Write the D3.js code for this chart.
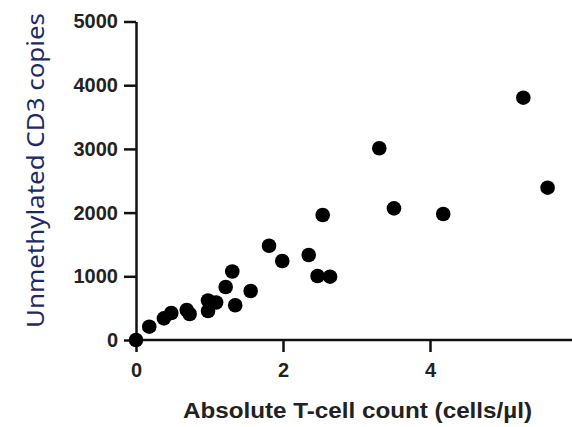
<!DOCTYPE html>
<html>
<head>
<meta charset="utf-8">
<script src="https://cdn.jsdelivr.net/npm/d3@7"></script>
<style>
html,body{margin:0;padding:0;background:#fff;}
svg{display:block;}
</style>
</head>
<body>
<svg id="chart" width="572" height="427"></svg>
<script>
// Data
const tcellCount = [0, 0.18, 0.38, 0.48, 0.69, 0.73, 0.98, 0.98, 1.09, 1.22, 1.31, 1.35, 1.56, 1.81, 1.99, 2.35, 2.47, 2.64, 2.54, 3.31, 3.51, 4.18, 5.27, 5.60];
const cd3Copies  = [0, 209, 340, 424, 471, 408, 620, 455, 589, 832, 1075, 545, 769, 1480, 1240, 1334, 1005, 994, 1962, 3010, 2067, 1978, 3804, 2391];
const xTicks = [0, 2, 4, 6];
const yTicks = [0, 1000, 2000, 3000, 4000, 5000];
const xTitle = "Absolute T-cell count (cells/\u00b5l)";
const yTitle = "Unmethylated CD3 copies";

const svg = d3.select("#chart");
const x = d3.scaleLinear().domain([0, 6]).range([136, 577]);
const y = d3.scaleLinear().domain([0, 5000]).range([340, 21.5]);

const axisFont = "'Liberation Sans', Arial, sans-serif";

const gx = svg.append("g")
  .attr("transform", `translate(0,${y(0)})`)
  .call(d3.axisBottom(x).tickValues(xTicks).tickFormat(d3.format("d")).tickSize(12).tickPadding(11).tickSizeOuter(0));
const gy = svg.append("g")
  .attr("transform", `translate(${x(0)},0)`)
  .call(d3.axisLeft(y).tickValues(yTicks).tickFormat(d3.format("d")).tickSize(12).tickPadding(6).tickSizeOuter(0));

[gx, gy].forEach(g => {
  g.select(".domain").attr("stroke", "#111").attr("stroke-width", 2.5);
  g.selectAll(".tick line").attr("stroke", "#111").attr("stroke-width", 2.5);
  g.selectAll(".tick text")
    .attr("fill", "#222")
    .style("font-family", axisFont)
    .style("font-weight", "bold")
    .style("font-size", "20px");
});
// extend x domain line to the right edge
gx.select(".domain").attr("d", `M${x(0)},0H${x(6)+20}`);

svg.append("g").selectAll("circle")
  .data(tcellCount.map((v, i) => [v, cd3Copies[i]]))
  .join("circle")
  .attr("cx", d => x(d[0]))
  .attr("cy", d => y(d[1]))
  .attr("r", 7.3)
  .attr("fill", "#000");

svg.append("text")
  .attr("x", 357.5)
  .attr("y", 418)
  .attr("text-anchor", "middle")
  .attr("textLength", 349)
  .attr("lengthAdjust", "spacingAndGlyphs")
  .style("font-family", axisFont)
  .style("font-weight", "bold")
  .style("font-size", "22px")
  .attr("fill", "#222")
  .text(xTitle);

svg.append("text")
  .attr("transform", "translate(44,170.5) rotate(-90)")
  .attr("text-anchor", "middle")
  .attr("textLength", 315)
  .attr("lengthAdjust", "spacingAndGlyphs")
  .style("font-family", "'Noto Sans', 'Open Sans', sans-serif")
  .style("font-size", "24px")
  .attr("fill", "#1c2b66")
  .text(yTitle);
</script>
</body>
</html>
